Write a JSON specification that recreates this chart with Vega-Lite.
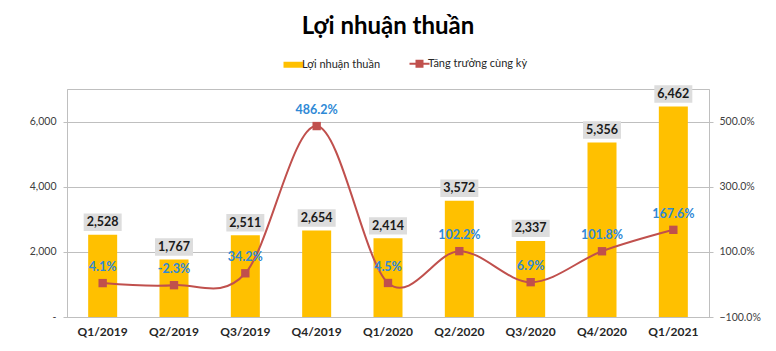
{
  "$schema": "https://vega.github.io/schema/vega-lite/v6.json",
  "autosize": {"type": "none"},
  "width": 642,
  "height": 228,
  "padding": {"left": 67, "top": 89, "right": 67, "bottom": 34},
  "background": "white",
  "config": {
    "font": "Lato",
    "view": {"stroke": "#BFBFBF", "strokeWidth": 1}
  },
  "title": {
    "text": "Lợi nhuận thuần",
    "fontSize": 24,
    "fontWeight": "bold",
    "font": "Lato",
    "color": "#000000",
    "anchor": "middle",
    "frame": "group",
    "offset": 19
  },
  "data": {
    "values": [
      {"q": "Q1/2019", "profit": 2528, "growth": 4.1, "glabel": "4.1%"},
      {"q": "Q2/2019", "profit": 1767, "growth": -2.3, "glabel": "-2.3%"},
      {"q": "Q3/2019", "profit": 2511, "growth": 34.2, "glabel": "34.2%"},
      {"q": "Q4/2019", "profit": 2654, "growth": 486.2, "glabel": "486.2%"},
      {"q": "Q1/2020", "profit": 2414, "growth": 4.5, "glabel": "4.5%"},
      {"q": "Q2/2020", "profit": 3572, "growth": 102.2, "glabel": "102.2%"},
      {"q": "Q3/2020", "profit": 2337, "growth": 6.9, "glabel": "6.9%"},
      {"q": "Q4/2020", "profit": 5356, "growth": 101.8, "glabel": "101.8%"},
      {"q": "Q1/2021", "profit": 6462, "growth": 167.6, "glabel": "167.6%"}
    ]
  },
  "encoding": {
    "x": {
      "field": "q",
      "type": "nominal",
      "sort": null,
      "title": null,
      "axis": {
        "labelAngle": 0,
        "labelFontWeight": "bold",
        "labelFontSize": 12,
        "labelColor": "#262626",
        "labelPadding": 9,
        "ticks": false,
        "domainColor": "#BFBFBF"
      }
    }
  },
  "layer": [
    {
      "layer": [
        {
          "mark": {"type": "bar", "width": 29},
          "encoding": {
            "y": {"field": "profit", "type": "quantitative"},
            "color": {
              "datum": "Lợi nhuận thuần",
              "scale": {"domain": ["Lợi nhuận thuần", "Tăng trưởng cùng kỳ"], "range": ["#FFC000", "#C0504D"]},
              "legend": {
                "title": null,
                "orient": "none",
                "direction": "horizontal",
                "legendX": 221,
                "legendY": -31,
                "labelFontSize": 11,
                "labelColor": "#262626",
                "labelFont": "Lato",
                "symbolSize": 400,
                "labelOffset": 3,
                "columnPadding": 24,
                "symbolOpacity": 1,
                "encode": {
                  "symbols": {
                    "update": {
                      "shape": {"signal": "datum.value === 'Lợi nhuận thuần' ? 'M-1,-0.3H1V0.3H-1Z' : 'M-1,0H1M-0.3,-0.3H0.3V0.3H-0.3Z'"},
                      "fill": {"signal": "datum.value === 'Lợi nhuận thuần' ? '#FFC000' : '#C0504D'"},
                      "stroke": {"signal": "datum.value === 'Lợi nhuận thuần' ? '#FFC000' : '#C0504D'"},
                      "strokeWidth": {"signal": "datum.value === 'Lợi nhuận thuần' ? 0 : 2"},
                      "opacity": {"value": 1},
                      "fillOpacity": {"value": 1}
                    }
                  }
                }
              }
            }
          }
        },
        {
          "mark": {"type": "point", "shape": "M-1,-0.46H1V0.46H-1Z", "size": 1444, "filled": true, "fill": "#DDDDDD", "opacity": 1, "yOffset": -12.5, "strokeWidth": 0},
          "encoding": {
            "y": {"field": "profit", "type": "quantitative"}
          }
        },
        {
          "mark": {"type": "text", "fontWeight": "bold", "fontSize": 12.5, "color": "#1a1a1a", "baseline": "middle", "yOffset": -12.5},
          "encoding": {
            "y": {"field": "profit", "type": "quantitative"},
            "text": {"field": "profit", "type": "quantitative", "format": ","}
          }
        }
      ],
      "encoding": {
        "y": {
          "type": "quantitative",
          "scale": {"domain": [0, 7000], "nice": false},
          "title": null,
          "axis": {
            "orient": "left",
            "values": [0, 2000, 4000, 6000],
            "labelExpr": "datum.value == 0 ? '-' : format(datum.value, ',')",
            "grid": true,
            "gridColor": "#BFBFBF",
            "tickSize": 4,
            "tickColor": "#BFBFBF",
            "domainColor": "#BFBFBF",
            "labelFontSize": 10.5,
            "labelColor": "#404040",
            "labelPadding": 7
          }
        }
      }
    },
    {
      "layer": [
        {
          "mark": {"type": "line", "interpolate": "cardinal", "strokeWidth": 2},
          "encoding": {
            "y": {"field": "growth", "type": "quantitative"},
            "color": {"datum": "Tăng trưởng cùng kỳ"}
          }
        },
        {
          "mark": {"type": "point", "shape": "square", "size": 70, "filled": true, "fill": "#C0504D", "opacity": 1},
          "encoding": {
            "y": {"field": "growth", "type": "quantitative"}
          }
        },
        {
          "mark": {"type": "text", "fontWeight": "bold", "fontSize": 12.5, "color": "#2F89D6", "baseline": "middle", "yOffset": -16},
          "encoding": {
            "y": {"field": "growth", "type": "quantitative"},
            "text": {"field": "glabel", "type": "nominal"}
          }
        }
      ],
      "encoding": {
        "y": {
          "type": "quantitative",
          "scale": {"domain": [-100, 600], "nice": false},
          "title": null,
          "axis": {
            "orient": "right",
            "values": [-100, 100, 300, 500],
            "labelExpr": "format(datum.value, '.1f') + '%'",
            "grid": false,
            "tickSize": 4,
            "tickColor": "#BFBFBF",
            "domainColor": "#BFBFBF",
            "labelFontSize": 10.5,
            "labelColor": "#404040",
            "labelPadding": 6
          }
        }
      }
    }
  ],
  "resolve": {"scale": {"y": "independent"}}
}
